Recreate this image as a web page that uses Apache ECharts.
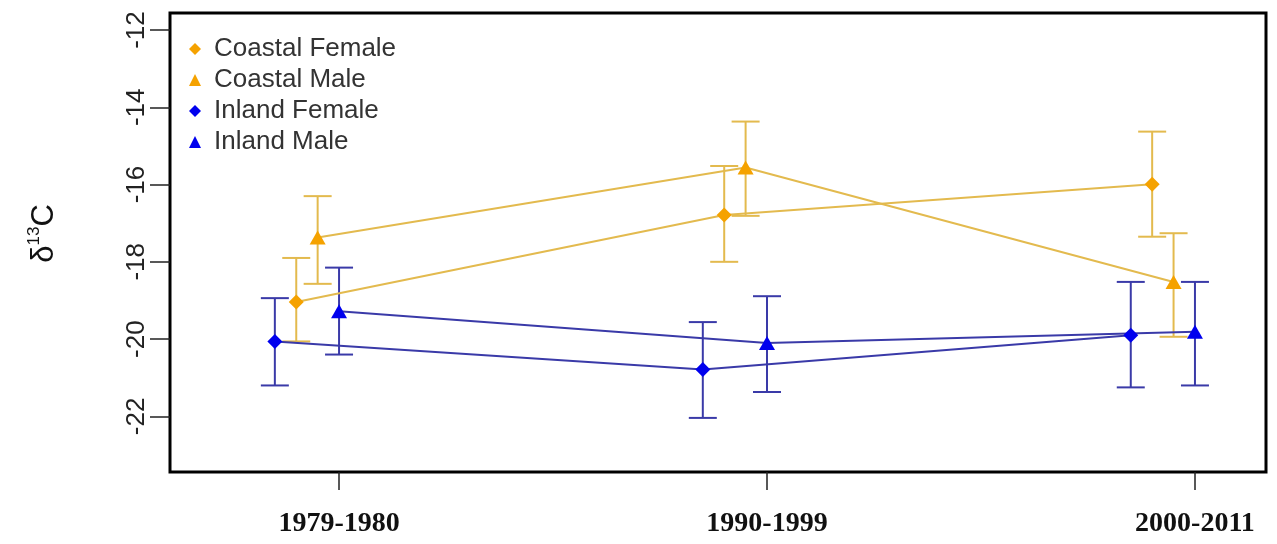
<!DOCTYPE html>
<html><head><meta charset="utf-8">
<script src="https://cdn.jsdelivr.net/npm/echarts@6/dist/echarts.min.js"></script>
<style>html,body{margin:0;padding:0;background:#fff}#c{width:1277px;height:544px}</style>
</head><body><div id="c"></div>
<script>
// ---- data ----
const periods = ['1979-1980', '1990-1999', '2000-2011'];
const seriesNames = ['Coastal Female', 'Coastal Male', 'Inland Female', 'Inland Male'];
const yTicks = [-22, -20, -18, -16, -14, -12];

const coastalFemaleMean  = [-19.04, -16.79, -15.99];
const coastalFemaleLower = [-20.06, -18.00, -17.35];
const coastalFemaleUpper = [-17.90, -15.52, -14.63];

const coastalMaleMean  = [-17.37, -15.56, -18.52];
const coastalMaleLower = [-18.57, -16.81, -19.94];
const coastalMaleUpper = [-16.30, -14.37, -17.26];

const inlandFemaleMean  = [-20.06, -20.79, -19.90];
const inlandFemaleLower = [-21.20, -22.04, -21.25];
const inlandFemaleUpper = [-18.94, -19.56, -18.52];

const inlandMaleMean  = [-19.28, -20.10, -19.81];
const inlandMaleLower = [-20.40, -21.37, -21.20];
const inlandMaleUpper = [-18.15, -18.89, -18.52];

// ---- layout / style ----
const DODGE = [-0.10, -0.05, -0.15, 0];
const SYMBOLS = ['diamond', 'triangle', 'diamond', 'triangle'];
const MARKER = ['#F5A200', '#F5A200', '#0000EE', '#0000EE'];
const LINE = ['#E3BA4E', '#E3BA4E', '#3A3AA8', '#3A3AA8'];
const means = [coastalFemaleMean, coastalMaleMean, inlandFemaleMean, inlandMaleMean];
const lowers = [coastalFemaleLower, coastalMaleLower, inlandFemaleLower, inlandMaleLower];
const uppers = [coastalFemaleUpper, coastalMaleUpper, inlandFemaleUpper, inlandMaleUpper];

function errRender(color) {
  return function (params, api) {
    const x = api.value(0), lo = api.value(1), hi = api.value(2);
    const p1 = api.coord([x, lo]), p2 = api.coord([x, hi]);
    const hw = 14;
    const style = { stroke: color, lineWidth: 2, fill: null };
    return { type: 'group', children: [
      { type: 'line', shape: { x1: p1[0], y1: p1[1], x2: p2[0], y2: p2[1] }, style },
      { type: 'line', shape: { x1: p1[0] - hw, y1: p1[1], x2: p1[0] + hw, y2: p1[1] }, style },
      { type: 'line', shape: { x1: p2[0] - hw, y1: p2[1], x2: p2[0] + hw, y2: p2[1] }, style }
    ]};
  };
}

const series = [];
seriesNames.forEach((name, k) => {
  series.push({
    name, type: 'line', z: 3,
    data: means[k].map((v, i) => [i + 1 + DODGE[k], v]),
    symbol: SYMBOLS[k],
    symbolSize: SYMBOLS[k] === 'diamond' ? 15 : [16, 14],
    itemStyle: { color: MARKER[k] },
    lineStyle: { color: LINE[k], width: 2 },
    emphasis: { disabled: true }
  });
});
seriesNames.forEach((name, k) => {
  series.push({
    name, type: 'custom', z: 2,
    renderItem: errRender(LINE[k]),
    encode: { x: 0, y: [1, 2] },
    data: lowers[k].map((l, i) => [i + 1 + DODGE[k], l, uppers[k][i]])
  });
});

const chart = echarts.init(document.getElementById('c'));
chart.setOption({
  animation: false,
  backgroundColor: '#fff',
  grid: { left: 170, right: 11, top: 13, bottom: 72, show: true, borderColor: '#000', borderWidth: 3, backgroundColor: 'transparent' },
  legend: {
    orient: 'vertical', left: 184, top: 31, itemGap: 5,
    itemWidth: 12, itemHeight: 12,
    data: seriesNames.map((n, k) => ({ name: n, icon: SYMBOLS[k], itemStyle: { color: MARKER[k] } })),
    textStyle: { fontFamily: 'Liberation Sans', fontSize: 26, color: '#333', padding: [0, 0, 0, 8] }
  },
  xAxis: {
    type: 'value', min: 0.605, max: 3.166,
    axisLine: { show: false }, splitLine: { show: false },
    axisTick: { show: true, customValues: [1, 2, 3], length: 18, lineStyle: { color: '#222', width: 1.5 } },
    axisLabel: { customValues: [1, 2, 3], formatter: v => periods[Math.round(v) - 1],
      fontFamily: 'Liberation Serif', fontWeight: 'bold', fontSize: 28, color: '#111', margin: 38 }
  },
  yAxis: {
    type: 'value', min: -23.44, max: -11.56,
    axisLine: { show: false }, splitLine: { show: false },
    axisTick: { show: true, customValues: yTicks, length: 20, lineStyle: { color: '#222', width: 1.5 } },
    axisLabel: { customValues: yTicks, rotate: 90, fontFamily: 'Liberation Sans', fontSize: 26, color: '#222', margin: 20 },
    name: '{a|δ}{b|13}{a|C}', nameLocation: 'middle', nameRotate: 90, nameGap: 110,
    nameTextStyle: { padding: [0, 0, 0, 18], rich: {
      a: { fontFamily: 'Liberation Sans', fontSize: 31, color: '#111', lineHeight: 34, verticalAlign: 'bottom' },
      b: { fontFamily: 'Liberation Sans', fontSize: 17, color: '#111', lineHeight: 34, verticalAlign: 'top' }
    } }
  },
  series
});
</script></body></html>
